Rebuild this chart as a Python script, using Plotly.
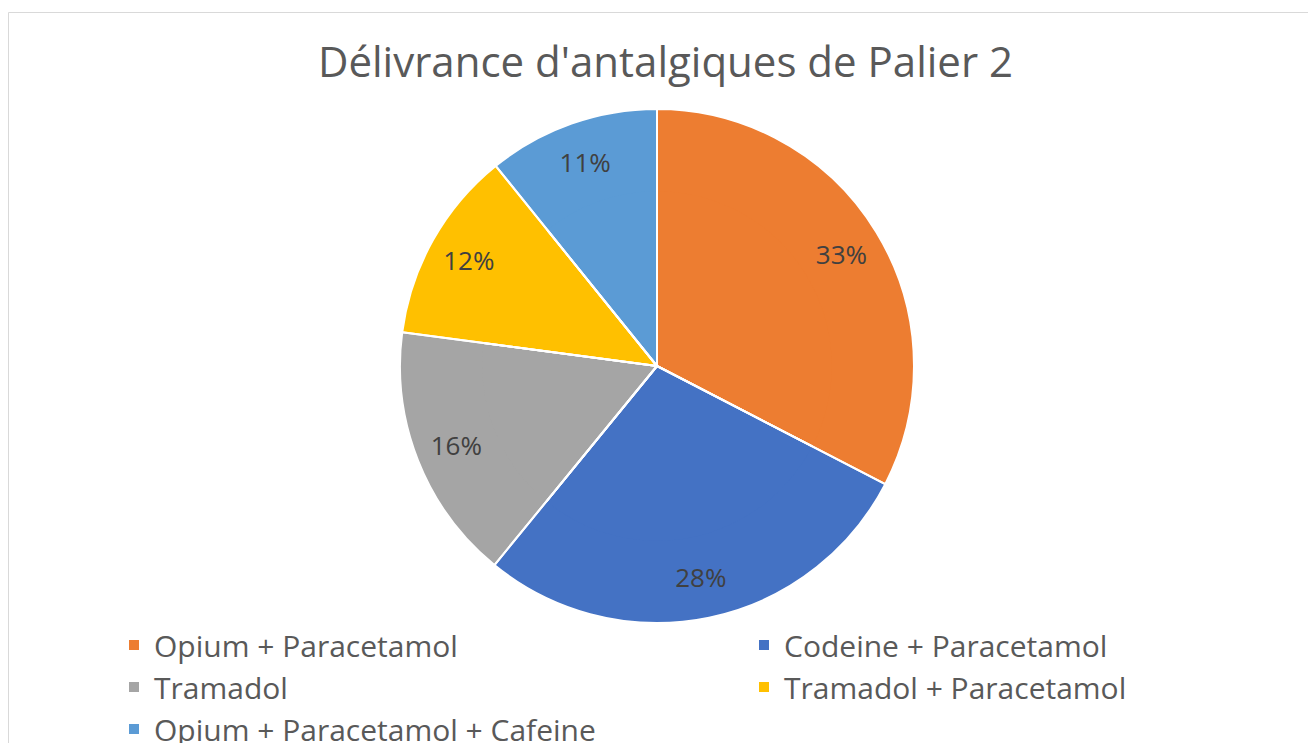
import plotly.graph_objects as go

labels = ["Opium + Paracetamol", "Codeine + Paracetamol", "Tramadol",
          "Tramadol + Paracetamol", "Opium + Paracetamol + Cafeine"]
values = [32.6, 28.3, 16.2, 12.1, 10.8]
colors = ["#ED7D31", "#4472C4", "#A5A5A5", "#FFC000", "#5B9BD5"]
title_text = "Délivrance d'antalgiques de Palier 2"

W, H = 1316, 743
font = "Open Sans"
# pie: centre (649, 358) px, radius 257 px within the figure
dom = dict(x=[0, 649 * 2 / W], y=[1 - 615 / H, 1 - 101 / H])

common = dict(labels=labels, values=values, sort=False, direction="clockwise",
              rotation=0, domain=dom)

# base full pie (fills + legend)
base = go.Pie(**common, marker=dict(colors=colors, line=dict(color="white", width=2)),
              textinfo="none", hoverinfo="label+percent", showlegend=True)
# ring pie carrying the percentage labels (placed in the outer part like Excel)
ring = go.Pie(**common, hole=0.68, marker=dict(colors=colors, line=dict(width=0)),
              texttemplate="%{percent:.0%}", textposition="inside",
              insidetextorientation="horizontal",
              textfont=dict(family=font, size=26, color="#404040"),
              hoverinfo="skip", showlegend=False)
# separators on top
sep = go.Pie(**common, marker=dict(colors=["rgba(0,0,0,0)"] * len(labels),
                                    line=dict(color="white", width=2)),
             textinfo="none", hoverinfo="skip", showlegend=False)

fig = go.Figure([base, ring, sep])

fig.update_layout(
    width=W, height=H,
    margin=dict(l=0, r=0, t=0, b=0, autoexpand=False),
    paper_bgcolor="white",
    title=dict(text=title_text, x=657.5 / W, xanchor="center",
               y=1 - 54 / H, yanchor="middle",
               font=dict(family=font, size=42, color="#595959")),
    legend=dict(orientation="h", x=106 / W, xanchor="left", y=1 - 611 / H, yanchor="top",
                entrywidth=585, entrywidthmode="pixels", bgcolor="rgba(0,0,0,0)",
                font=dict(family=font, size=30, color="#595959"),
                traceorder="normal", itemclick=False),
    shapes=[dict(type="rect", xref="paper", yref="paper",
                 x0=0.5 / W, x1=1.05, y0=-0.05, y1=1 - 4.5 / H,
                 line=dict(color="#D9D9D9", width=1), fillcolor="rgba(0,0,0,0)",
                 layer="below")],
)

fig.write_html("out.html")
